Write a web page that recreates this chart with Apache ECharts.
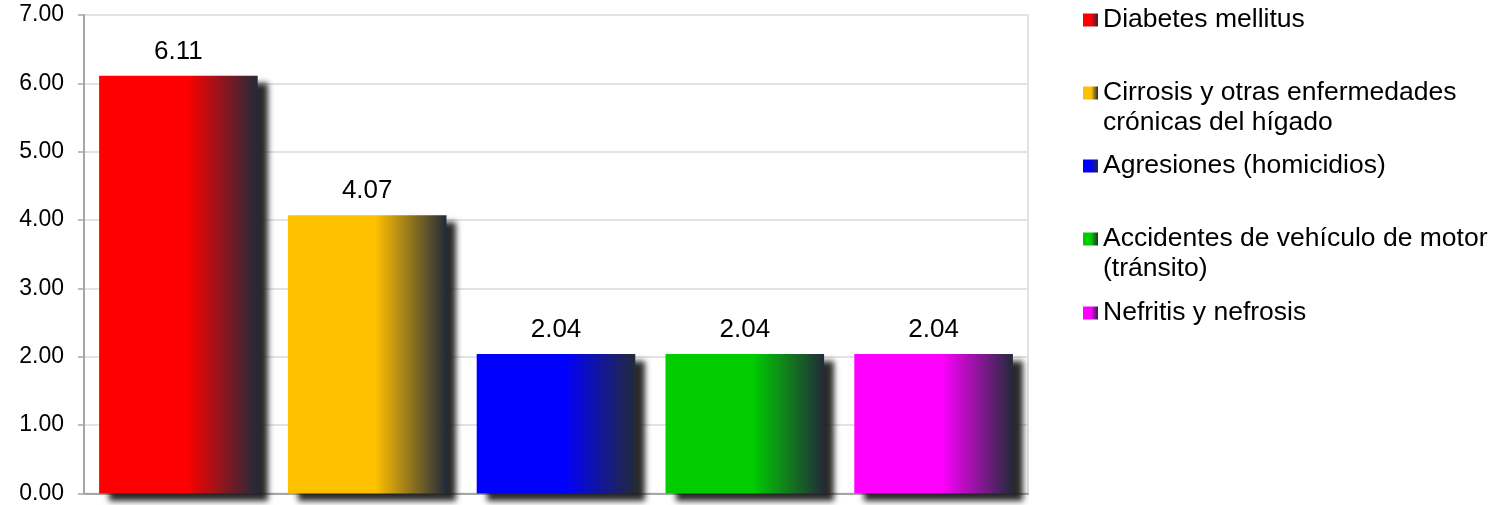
<!DOCTYPE html>
<html>
<head>
<meta charset="utf-8">
<script src="https://cdn.jsdelivr.net/npm/echarts@6/dist/echarts.min.js"></script>
<style>
html,body{margin:0;padding:0;background:#fff;}
#chart{width:1499px;height:505px;}
</style>
</head>
<body>
<div id="chart"></div>
<script>
var categories = [
  'Diabetes mellitus',
  'Cirrosis y otras enfermedades\ncrónicas del hígado',
  'Agresiones (homicidios)',
  'Accidentes de vehículo de motor\n(tránsito)',
  'Nefritis y nefrosis'
];
var values = [6.11, 4.07, 2.04, 2.04, 2.04];
var colors = ['#FF0000', '#FFC000', '#0000FF', '#00CC00', '#FF00FF'];
var yTicks = [0, 1, 2, 3, 4, 5, 6, 7];

var FONT = '"Liberation Sans", Arial, sans-serif';
var LINE_H = 30;
var legendCenters = [20, 93, 166, 239, 313];

function grad(c) {
  return new echarts.graphic.LinearGradient(0, 0, 1, 0, [
    {offset: 0, color: c},
    {offset: 0.55, color: c},
    {offset: 1, color: '#222a3a'}
  ]);
}

var series = categories.map(function (name, i) {
  var data = categories.map(function (_, j) { return j === i ? values[i] : '-'; });
  return {
    name: name,
    type: 'bar',
    stack: 'all',
    barCategoryGap: '16%',
    data: data,
    itemStyle: {
      color: grad(colors[i]),
      shadowColor: 'rgba(30,30,30,0.95)',
      shadowBlur: 6,
      shadowOffsetX: 10,
      shadowOffsetY: 7
    },
    label: {
      show: true,
      position: 'top',
      distance: 11,
      color: '#000',
      fontFamily: FONT,
      fontSize: 26,
      formatter: function (p) { return Number(p.value).toFixed(2); }
    },
    emphasis: {disabled: true}
  };
});

var legends = categories.map(function (name, i) {
  var lines = name.split('\n').length;
  var blockH = lines === 1 ? LINE_H : LINE_H * 3;
  return {
    data: [name],
    left: 1083,
    top: legendCenters[i] - blockH / 2,
    padding: 0,
    orient: 'vertical',
    icon: 'rect',
    itemWidth: 15,
    itemHeight: 13,
    itemGap: 0,
    selectedMode: false,
    formatter: function (n) { return lines === 1 ? n : '\n' + n; },
    textStyle: {
      color: '#000',
      fontFamily: FONT,
      fontSize: 26.5,
      lineHeight: LINE_H
    },
    itemStyle: {shadowBlur: 0, shadowOffsetX: 0, shadowOffsetY: 0, shadowColor: 'transparent'}
  };
});

var chart = echarts.init(document.getElementById('chart'), null, {renderer: 'canvas'});
chart.setOption({
  animation: false,
  backgroundColor: '#fff',
  grid: {
    left: 84, right: 471, top: 15, bottom: 11,
    show: true, borderColor: '#e2e2e2', borderWidth: 2
  },
  legend: legends,
  xAxis: {
    type: 'category',
    data: categories,
    axisLine: {show: true, lineStyle: {color: '#a6a6a6', width: 2}},
    axisTick: {show: false},
    axisLabel: {show: false},
    splitLine: {show: false}
  },
  yAxis: {
    type: 'value',
    min: yTicks[0],
    max: yTicks[yTicks.length - 1],
    interval: 1,
    axisLine: {show: true, lineStyle: {color: '#a6a6a6', width: 2}},
    axisTick: {show: true, length: 6, lineStyle: {color: '#a6a6a6', width: 1.5}},
    axisLabel: {
      color: '#000', fontFamily: FONT, fontSize: 23, margin: 20,
      formatter: function (v) { return v.toFixed(2); }
    },
    splitLine: {show: true, lineStyle: {color: '#e2e2e2', width: 2}}
  },
  series: series
});
</script>
</body>
</html>
